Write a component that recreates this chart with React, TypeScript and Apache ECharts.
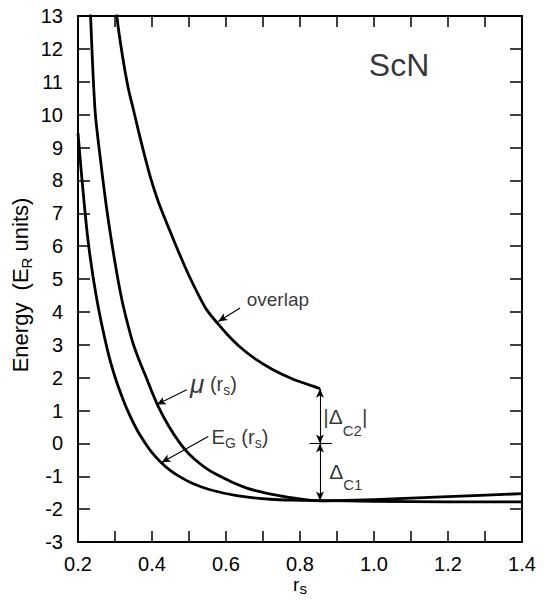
import React, { useEffect, useRef } from "react";
import * as echarts from "echarts";

// ---- data ----
const egRs = [0.2, 0.21, 0.228, 0.251, 0.28, 0.3, 0.322, 0.34, 0.36, 0.385, 0.4, 0.426, 0.45, 0.476, 0.51, 0.557, 0.629, 0.72, 0.8, 0.854, 1.0, 1.2, 1.4];
const egVal = [9.44, 8.12, 6.09, 4.37, 2.82, 2.02, 1.33, 0.85, 0.4, -0.05, -0.28, -0.6, -0.83, -1.02, -1.22, -1.41, -1.59, -1.7, -1.73, -1.74, -1.76, -1.78, -1.78];

const muRs = [0.228, 0.234, 0.246, 0.26, 0.278, 0.3, 0.318, 0.335, 0.35, 0.368, 0.385, 0.4, 0.417, 0.445, 0.476, 0.5, 0.53, 0.556, 0.584, 0.62, 0.656, 0.692, 0.728, 0.78, 0.854, 0.9, 1.0, 1.2, 1.4];
const muVal = [15.0, 13.0, 10.14, 8.7, 7.1, 5.5, 4.4, 3.6, 3.0, 2.45, 1.99, 1.56, 1.12, 0.53, 0.0, -0.32, -0.62, -0.83, -1.0, -1.2, -1.36, -1.47, -1.56, -1.66, -1.75, -1.74, -1.71, -1.62, -1.53];

const ovRs = [0.298, 0.305, 0.32, 0.335, 0.35, 0.37, 0.395, 0.414, 0.435, 0.462, 0.485, 0.503, 0.53, 0.548, 0.578, 0.603, 0.638, 0.68, 0.727, 0.78, 0.835, 0.854];
const ovVal = [14.2, 13.0, 11.8, 10.85, 10.14, 9.2, 8.12, 7.45, 6.83, 6.09, 5.48, 5.03, 4.42, 4.06, 3.64, 3.32, 2.93, 2.56, 2.24, 1.96, 1.74, 1.66];

const xTicks = { min: 0.2, max: 1.4, step: 0.1 };
const yTicks = { min: -3, max: 13, step: 1 };

// Δ markers (data units)
const deltaR = 0.854;
const deltaTop = 1.66;
const deltaBottom = -1.74;

const FONT = "'Liberation Sans', Arial, Helvetica, sans-serif";

const zip = (xs: number[], ys: number[]) => xs.map((x, i) => [x, ys[i]]);

export default function App() {
  const ref = useRef<HTMLDivElement>(null);

  useEffect(() => {
    if (!ref.current) return;
    const chart = echarts.init(ref.current, undefined, { renderer: "svg" });

    const curve = (name: string, data: number[][]) => ({
      name,
      type: "line",
      data,
      showSymbol: false,
      symbol: "none",
      smooth: 0.3,
      clip: true,
      silent: true,
      lineStyle: { color: "#000", width: 2.8, join: "round" },
      z: 3,
    });

    const main = { fontSize: 20, fontFamily: FONT, color: "#000", lineHeight: 26 };
    const sub = { fontSize: 14, fontFamily: FONT, color: "#000", lineHeight: 13, verticalAlign: "bottom" };
    const subLow = { fontSize: 15, fontFamily: FONT, color: "#000", lineHeight: 12, verticalAlign: "bottom", padding: [0, 0, -8, 0] };

    const textPoint = (x: number, y: number, formatter: string, rich: any) => ({
      value: [x, y],
      label: {
        show: true,
        position: "right",
        distance: 0,
        formatter,
        rich,
        color: "#000",
        fontFamily: FONT,
      },
    });

    const arrow = (a: number[], b: number[]) => [
      { coord: a, symbol: "none" },
      { coord: b, symbol: "arrow" },
    ];
    const dblArrow = (a: number[], b: number[]) => [
      { coord: a, symbol: "arrow" },
      { coord: b, symbol: "arrow" },
    ];
    const plain = (a: number[], b: number[]) => [
      { coord: a, symbol: "none" },
      { coord: b, symbol: "none" },
    ];

    const xLabelFmt = (v: number) => (Math.round(v * 10) % 2 === 0 ? v.toFixed(1) : "");

    const axisLine = { show: true, onZero: false, lineStyle: { color: "#000", width: 2 } };

    chart.setOption({
      animation: false,
      backgroundColor: "#fff",
      grid: { left: 78, right: 22, top: 16, bottom: 61, containLabel: false, outerBoundsMode: "none" },
      xAxis: [
        {
          type: "value",
          position: "bottom",
          min: xTicks.min,
          max: xTicks.max,
          interval: xTicks.step,
          axisLine,
          axisTick: { show: true, inside: true, length: 11, lineStyle: { color: "#000", width: 1.5 } },
          axisLabel: { color: "#000", fontSize: 20, fontFamily: FONT, margin: 12, formatter: xLabelFmt },
          splitLine: { show: false },
          name: "{r|r}{s|s}",
          nameLocation: "middle",
          nameGap: 30,
          nameMoveOverlap: false,
          nameTextStyle: {
            rich: {
              r: { fontSize: 19, fontFamily: FONT, color: "#000", lineHeight: 24 },
              s: { fontSize: 15, fontFamily: FONT, color: "#000", lineHeight: 16, verticalAlign: "bottom" },
            },
          },
        },
        {
          type: "value",
          position: "top",
          min: xTicks.min,
          max: xTicks.max,
          interval: xTicks.step,
          axisLine,
          axisTick: { show: true, inside: true, length: 11, lineStyle: { color: "#000", width: 1.5 } },
          axisLabel: { show: false },
          splitLine: { show: false },
        },
      ],
      yAxis: [
        {
          type: "value",
          position: "left",
          min: yTicks.min,
          max: yTicks.max,
          interval: yTicks.step,
          axisLine,
          axisTick: { show: true, inside: true, length: 12, lineStyle: { color: "#000", width: 1.5 } },
          axisLabel: { color: "#000", fontSize: 20, fontFamily: FONT, margin: 15 },
          splitLine: { show: false },
          name: "{t|Energy  (E}{s|R}{t| units)}",
          nameLocation: "middle",
          nameGap: 44,
          nameRotate: 90,
          nameMoveOverlap: false,
          nameTextStyle: {
            padding: [0, 12, 0, 0],
            rich: {
              t: { fontSize: 22, fontFamily: FONT, color: "#000", lineHeight: 28 },
              s: { fontSize: 15, fontFamily: FONT, color: "#000", lineHeight: 16, verticalAlign: "bottom" },
            },
          },
        },
        {
          type: "value",
          position: "right",
          min: yTicks.min,
          max: yTicks.max,
          interval: yTicks.step,
          axisLine,
          axisTick: { show: true, inside: true, length: 12, lineStyle: { color: "#000", width: 1.5 } },
          axisLabel: { show: false },
          splitLine: { show: false },
        },
      ],
      series: [
        curve("E_G", zip(egRs, egVal)),
        curve("mu", zip(muRs, muVal)),
        curve("overlap", zip(ovRs, ovVal)),
        {
          name: "annotations",
          type: "scatter",
          symbolSize: 0,
          silent: true,
          z: 5,
          data: [
            textPoint(0.986, 11.5, "{a|ScN}", { a: { fontSize: 32, fontFamily: FONT, color: "#000" } }),
            textPoint(0.656, 4.37, "{a|overlap}", { a: { fontSize: 19, fontFamily: FONT, color: "#000" } }),
            textPoint(0.503, 1.8, "{mu|μ}{m| (r}{s|s}{m|)}", {
              mu: { fontSize: 26, fontFamily: FONT, fontStyle: "italic", color: "#000", lineHeight: 26 },
              m: main,
              s: sub,
            }),
            textPoint(0.561, 0.19, "{m|E}{s|G}{m| (r}{s|s}{m|)}", { m: main, s: sub }),
            textPoint(0.863, 0.81, "{m||Δ}{s|C2}{m||}", { m: { ...main, fontSize: 21 }, s: subLow }),
            textPoint(0.879, -0.85, "{m|Δ}{s|C1}", { m: { ...main, fontSize: 21 }, s: subLow }),
          ],
          markLine: {
            silent: true,
            animation: false,
            symbolSize: [6, 9],
            label: { show: false },
            emphasis: { disabled: true },
            lineStyle: { color: "#000", width: 1.1, type: "solid" },
            data: [
              arrow([0.638, 4.12], [0.579, 3.71]),
              arrow([0.494, 1.63], [0.413, 1.18]),
              arrow([0.552, 0.21], [0.426, -0.58]),
              dblArrow([deltaR, 0], [deltaR, deltaTop]),
              dblArrow([deltaR, 0], [deltaR, deltaBottom]),
              plain([0.826, 0], [0.886, 0]),
            ],
          },
        },
      ],
    });

    return () => chart.dispose();
  }, []);

  return (
    <div
      ref={ref}
      style={{ position: "fixed", left: 0, top: 0, width: 544, height: 603, background: "#fff" }}
    />
  );
}
